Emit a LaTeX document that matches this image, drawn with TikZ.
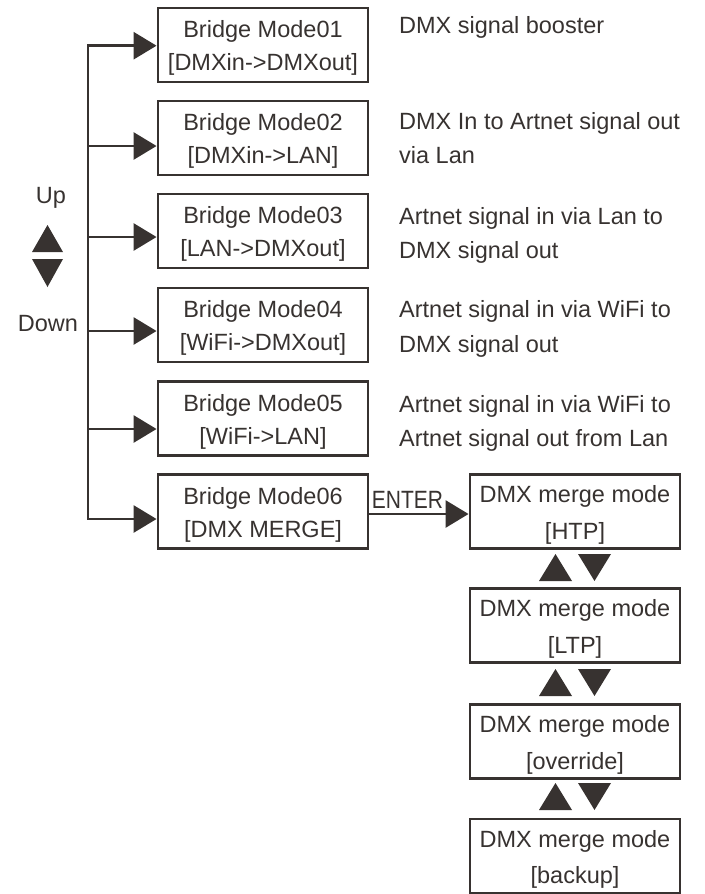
\documentclass[tikz,border=0pt]{standalone}
\usepackage{fontspec}
\setmainfont{Liberation Sans}
\usetikzlibrary{arrows.meta}
\definecolor{ink}{RGB}{55,50,48}
\newcommand{\topstrut}{\rule{0pt}{23.5pt}}
\begin{document}
\begin{tikzpicture}[x=1pt,y=-1pt,
  every node/.style={text=ink},
  boxl/.style={draw=ink, line width=2.9pt, minimum width=210pt, minimum height=74pt,
    inner sep=0pt, align=center, font=\fontsize{23.5}{33}\selectfont},
  boxm/.style={draw=ink, line width=2.9pt, minimum width=210pt, minimum height=74pt,
    inner sep=0pt, align=center, font=\fontsize{23.5}{36.5}\selectfont},
  desc/.style={anchor=base west, inner sep=0pt, align=left, font=\fontsize{23.5}{34.5}\selectfont},
  lbl/.style={anchor=base, inner sep=0pt, font=\fontsize{23.5}{28}\selectfont},
  wire/.style={draw=ink, line width=2.9pt},
  arr/.style={-{Triangle[length=23pt,width=27pt]}},
  tri/.style={fill=ink, draw=none}
]
\useasboundingbox (0,0) rectangle (704,894);

% left boxes
\node[boxl] (b1) at (263,45)    {\topstrut Bridge Mode01\\{}[DMXin->DMXout]};
\node[boxl] (b2) at (263,138)   {\topstrut Bridge Mode02\\{}[DMXin->LAN]};
\node[boxl] (b3) at (263,231)   {\topstrut Bridge Mode03\\{}[LAN->DMXout]};
\node[boxl] (b4) at (263,325)   {\topstrut Bridge Mode04\\{}[WiFi->DMXout]};
\node[boxl] (b5) at (263,418.5) {\topstrut Bridge Mode05\\{}[WiFi->LAN]};
\node[boxl] (b6) at (263,511.5) {\topstrut Bridge Mode06\\{}[DMX MERGE]};

% descriptions (base anchor = baseline of last line)
\node[desc] (d1) at (399,33)    {DMX signal booster};
\node[desc] (d2) at (399,163.5) {DMX In to Artnet signal out\\via Lan};
\node[desc] (d3) at (399,258.5) {Artnet signal in via Lan to\\DMX signal out};
\node[desc] (d4) at (399,352)   {Artnet signal in via WiFi to\\DMX signal out};
\node[desc] (d5) at (399,446.5) {Artnet signal in via WiFi to\\Artnet signal out from Lan};

% merge boxes
\node[boxm] (m1) at (575,511.5) {\topstrut DMX merge mode\\{}[HTP]};
\node[boxm] (m2) at (575,625.5) {\topstrut DMX merge mode\\{}[LTP]};
\node[boxm] (m3) at (575,741.5) {\topstrut DMX merge mode\\{}[override]};
\node[boxm] (m4) at (575,856)   {\topstrut DMX merge mode\\{}[backup]};

% bus
\coordinate (t1) at (88,45.7);
\coordinate (t2) at (88,146);
\coordinate (t3) at (88,237);
\coordinate (t4) at (88,331);
\coordinate (t5) at (88,429);
\coordinate (t6) at (88,519);
\draw[wire, line cap=rect] (t1) -- (t6);
\foreach \i in {1,...,6} {
  \draw[wire, arr] (t\i) -- (t\i -| b\i.west);
}

% Up / Down
\node[lbl] (up) at (51,203) {Up};
\node[lbl] (down) at (48,331) {Down};
\fill[tri] (32,252) -- (63,252) -- (47.5,225) -- cycle;
\fill[tri] (32,259) -- (63,259) -- (47.5,287) -- cycle;

% ENTER
\coordinate (e) at (b6.east |- 0,514);
\draw[wire, arr] (e) -- (e -| m1.west);
\node[anchor=base, inner sep=0pt, font=\fontsize{25}{28}\selectfont] (ent) at (407.5,508) {\scalebox{0.84}[1]{ENTER}};

% merge up/down triangles
\foreach \y in {554,669,783} {
  \fill[tri] (539,\y+27) -- (572,\y+27) -- (555.5,\y) -- cycle;
  \fill[tri] (578,\y) -- (611,\y) -- (594.5,\y+27) -- cycle;
}
\end{tikzpicture}
\end{document}
